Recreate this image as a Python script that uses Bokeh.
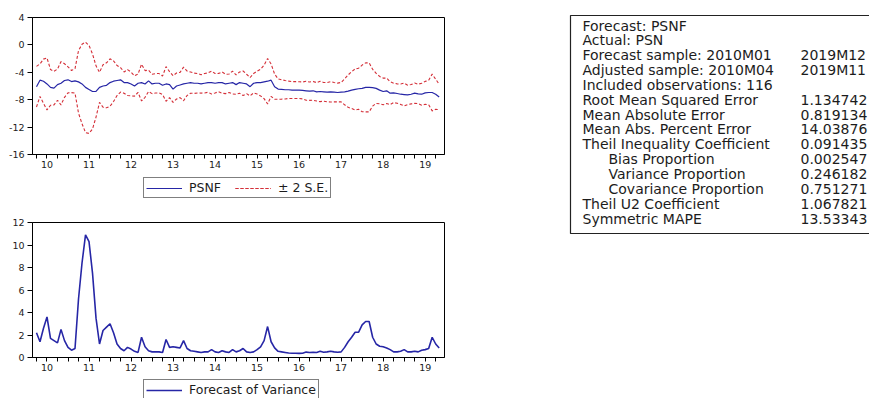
import numpy as np
from bokeh.plotting import figure
from bokeh.models import Range1d, FixedTicker, Legend, LegendItem, ColumnDataSource
from bokeh.layouts import row, column
from bokeh.embed import file_html
from bokeh.resources import INLINE
from bokeh.core.properties import value

# ---------------- data ----------------
FIRST_YEAR, FIRST_MONTH = 2010, 4   # first observation 2010M04, last 2019M11

# PSNF forecast, monthly 2010M04 .. 2019M11
psnf = [
    -6.1, -5.15, -5.3, -5.7, -6.2, -6.3, -5.8, -5.6, -5.2,                     # 2010 Apr-Dec
    -5.1, -5.35, -5.25, -5.4, -5.7, -6.2, -6.5, -6.8, -6.8, -6.2, -6.0, -5.9,  # 2011
    -5.5, -5.3, -5.2, -5.1, -5.5, -5.5, -5.7, -6.0, -5.6, -5.5, -5.7, -5.25,   # 2012
    -5.7, -5.6, -5.6, -5.9, -5.7, -5.8, -6.45, -6.0, -5.85, -5.7, -5.6, -5.5,  # 2013
    -5.6, -5.6, -5.7, -5.6, -5.5, -5.5, -5.6, -5.5, -5.5, -5.7, -5.6, -5.5,    # 2014
    -5.8, -5.5, -5.6, -5.7, -6.1, -5.6, -5.5, -5.5, -5.4, -5.3, -5.15, -6.1,   # 2015
    -6.45, -6.5, -6.55, -6.55, -6.6, -6.6, -6.6, -6.65, -6.7, -6.75, -6.7, -6.85,  # 2016
    -6.8, -6.85, -6.9, -6.85, -6.9, -6.95, -6.9, -6.85, -6.75, -6.6, -6.5, -6.4,   # 2017
    -6.35, -6.2, -6.2, -6.25, -6.35, -6.6, -6.8, -6.7, -7.05, -7.0, -7.1, -7.2,    # 2018
    -7.25, -7.3, -7.2, -7.05, -7.15, -7.2, -7.0, -6.95, -6.95, -7.2, -7.6,         # 2019 Jan-Nov
]

# Forecast of variance, monthly 2010M04 .. 2019M11
variance = [
    2.2, 1.4, 2.6, 3.6, 1.7, 1.5, 1.3, 2.5, 1.5,                      # 2010 Apr-Dec
    0.9, 0.65, 0.8, 5.2, 8.4, 10.9, 10.3, 7.5, 3.5, 1.2, 2.4, 2.7,    # 2011
    3.0, 2.2, 1.2, 0.8, 0.6, 0.9, 0.75, 0.55, 0.45, 1.8, 0.95, 0.6,   # 2012
    0.5, 0.5, 0.5, 0.45, 1.6, 0.9, 0.95, 0.9, 0.85, 1.5, 0.8, 0.6,    # 2013
    0.55, 0.5, 0.45, 0.5, 0.5, 0.7, 0.5, 0.45, 0.6, 0.5, 0.45, 0.7,   # 2014
    0.5, 0.6, 0.8, 0.5, 0.45, 0.5, 0.7, 0.95, 1.5, 2.75, 1.4, 0.85,   # 2015
    0.55, 0.5, 0.45, 0.4, 0.38, 0.38, 0.37, 0.38, 0.48, 0.45, 0.47, 0.45,  # 2016
    0.55, 0.47, 0.5, 0.55, 0.5, 0.47, 0.5, 0.9, 1.4, 1.8, 2.25, 2.25,      # 2017
    2.9, 3.2, 3.2, 1.8, 1.2, 1.0, 0.95, 0.85, 0.7, 0.5, 0.5, 0.55,         # 2018
    0.7, 0.5, 0.5, 0.55, 0.5, 0.65, 0.7, 0.8, 1.8, 1.2, 0.85,              # 2019 Jan-Nov
]

year_ticks = [2010, 2011, 2012, 2013, 2014, 2015, 2016, 2017, 2018, 2019]
year_labels = ["10", "11", "12", "13", "14", "15", "16", "17", "18", "19"]

top_yticks = [-16, -12, -8, -4, 0, 4]
top_ylabels = ["-16", "-12", "-8", "-4", "0", "4"]
bot_yticks = [0, 2, 4, 6, 8, 10, 12]
bot_ylabels = ["0", "2", "4", "6", "8", "10", "12"]

table_labels = [
    "Forecast: PSNF", "Actual: PSN", "Forecast sample: 2010M01",
    "Adjusted sample: 2010M04", "Included observations: 116",
    "Root Mean Squared Error", "Mean Absolute Error", "Mean Abs. Percent Error",
    "Theil Inequality Coefficient", "Bias Proportion", "Variance Proportion",
    "Covariance Proportion", "Theil U2 Coefficient", "Symmetric MAPE",
]
table_values = ["", "", "2019M12", "2019M11", "", "1.134742", "0.819134", "14.03876",
                "0.091435", "0.002547", "0.246182", "0.751271", "1.067821", "13.53343"]
table_indent = [0, 0, 0, 0, 0, 0, 0, 0, 0, 1, 1, 1, 0, 0]

# ---------------- derived ----------------
n = len(psnf)
xs = [FIRST_YEAR + (FIRST_MONTH - 1 + i) / 12.0 for i in range(n)]
f = np.array(psnf)
v = np.array(variance)
se2 = 2.0 * np.sqrt(v)
src = ColumnDataSource(dict(x=xs, f=f, up=f + se2, lo=f - se2, v=v))

X_LO, X_HI = 2010.155, 2019.96
FONT = "DejaVu Sans"
BLUE = "#2626A6"
RED = "#D42F38"
TXT = "#1c1c1c"
W_LEFT = 460
B_LEFT, B_RIGHT = 32, 16

mids = [y + 0.5 for y in year_ticks]
quarter_bounds = [y + q / 4.0 for y in year_ticks + [2020] for q in range(4)
                  if X_LO < y + q / 4.0 < X_HI]

F_STYLE = dict(line_color=BLUE, line_width=1.2)
SE_STYLE = dict(line_color=RED, line_width=1.1, line_dash="3 2")
V_STYLE = dict(line_color=BLUE, line_width=1.6)


def make_panel(height, top, bottom, yrange, yticks, ylabels):
    p = figure(width=W_LEFT, height=height, x_range=Range1d(X_LO, X_HI), y_range=Range1d(*yrange),
               output_backend="svg", toolbar_location=None,
               min_border_left=B_LEFT, min_border_right=B_RIGHT,
               min_border_top=top, min_border_bottom=bottom)
    p.grid.visible = False
    p.outline_line_color = "black"
    p.outline_line_width = 1
    p.background_fill_color = "white"
    p.border_fill_color = "white"

    xa = p.xaxis[0]
    xa.ticker = FixedTicker(ticks=mids, minor_ticks=quarter_bounds)
    xa.major_label_overrides = {m: l for m, l in zip(mids, year_labels)}
    xa.major_tick_in = 0
    xa.major_tick_out = 0
    xa.major_tick_line_color = None
    xa.minor_tick_in = 0
    xa.minor_tick_out = 4
    xa.minor_tick_line_color = "black"
    xa.axis_line_color = "black"
    xa.major_label_standoff = 2
    xa.major_label_text_font = FONT
    xa.major_label_text_font_size = "9.5px"
    xa.major_label_text_color = TXT

    ya = p.yaxis[0]
    ya.ticker = FixedTicker(ticks=yticks)
    ya.major_label_overrides = {t: l for t, l in zip(yticks, ylabels)}
    ya.major_tick_in = 0
    ya.major_tick_out = 5
    ya.minor_tick_line_color = None
    ya.major_label_standoff = 3
    ya.major_label_text_font = FONT
    ya.major_label_text_font_size = "9.5px"
    ya.major_label_text_color = TXT
    ya.axis_line_color = "black"
    ya.major_tick_line_color = "black"
    return p


def make_legend_fig(height, entries, vy):
    """A strip below a panel holding that panel's legend box (its lines fall outside the strip's view)."""
    q = figure(width=W_LEFT, height=height, x_range=Range1d(0, 1), y_range=Range1d(0, 1),
               output_backend="svg", toolbar_location=None,
               x_axis_location=None, y_axis_location=None,
               min_border_left=B_LEFT, min_border_right=B_RIGHT,
               min_border_top=0, min_border_bottom=0)
    q.grid.visible = False
    q.outline_line_color = None
    q.background_fill_color = "white"
    q.border_fill_color = "white"
    items = []
    for label, specs in entries:
        rs = [q.line("x", col, source=src, **st) for col, st in specs]
        items.append(LegendItem(label=label, renderers=rs))
    leg = Legend(items=items, location=(111, vy), orientation="horizontal",
                 glyph_width=36, glyph_height=10, label_height=10, label_standoff=7,
                 spacing=14, padding=2, margin=0,
                 border_line_color="black", border_line_width=1,
                 background_fill_color="white", background_fill_alpha=1,
                 label_text_font=FONT, label_text_font_size="12.5px", label_text_color=TXT)
    q.add_layout(leg)
    return q


# ---- top panel ----
p1 = make_panel(171, 17, 17, (-16, 4), top_yticks, top_ylabels)
p1.line("x", "f", source=src, **F_STYLE)
p1.line("x", "up", source=src, **SE_STYLE)
p1.line("x", "lo", source=src, **SE_STYLE)
leg1 = make_legend_fig(34, [("PSNF", [("f", F_STYLE)]),
                            ("± 2 S.E.", [("up", SE_STYLE), ("lo", SE_STYLE)])], 7)

# ---- bottom panel ----
p2 = make_panel(169, 17, 17, (0, 12), bot_yticks, bot_ylabels)
p2.line("x", "v", source=src, **V_STYLE)
leg2 = make_legend_fig(24, [("Forecast of Variance", [("v", V_STYLE)])], -2)

# ---- statistics table ----
TW, TH = 409, 398
p3 = figure(width=TW, height=TH, x_range=Range1d(0, TW), y_range=Range1d(TH, 0),
            output_backend="svg", toolbar_location=None,
            x_axis_location=None, y_axis_location=None, min_border=0)
p3.grid.visible = False
p3.outline_line_color = None
p3.background_fill_color = "white"
p3.border_fill_color = "white"

BOX_L, BOX_T, BOX_B, BOX_R = 110, 15, 233, TW + 20
p3.line([BOX_R, BOX_L, BOX_L, BOX_R], [BOX_T, BOX_T, BOX_B, BOX_B], line_color="#222222", line_width=1.2)

ROW0, ROWH = 25, 14.85
COL_L, INDENT, COL_V = 122, 26, 340
rows_y = [ROW0 + i * ROWH for i in range(len(table_labels))]
p3.text(x=[COL_L + INDENT * k for k in table_indent], y=rows_y, text=table_labels,
        text_font=value(FONT), text_font_size=value("14px"), text_color=TXT,
        text_baseline="middle", text_align="left")
p3.text(x=[COL_V] * len(table_values), y=rows_y, text=table_values,
        text_font=value(FONT), text_font_size=value("14px"), text_color=TXT,
        text_baseline="middle", text_align="left")

layout = row(column(p1, leg1, p2, leg2), p3)
open("out.html", "w").write(file_html(layout, INLINE))
